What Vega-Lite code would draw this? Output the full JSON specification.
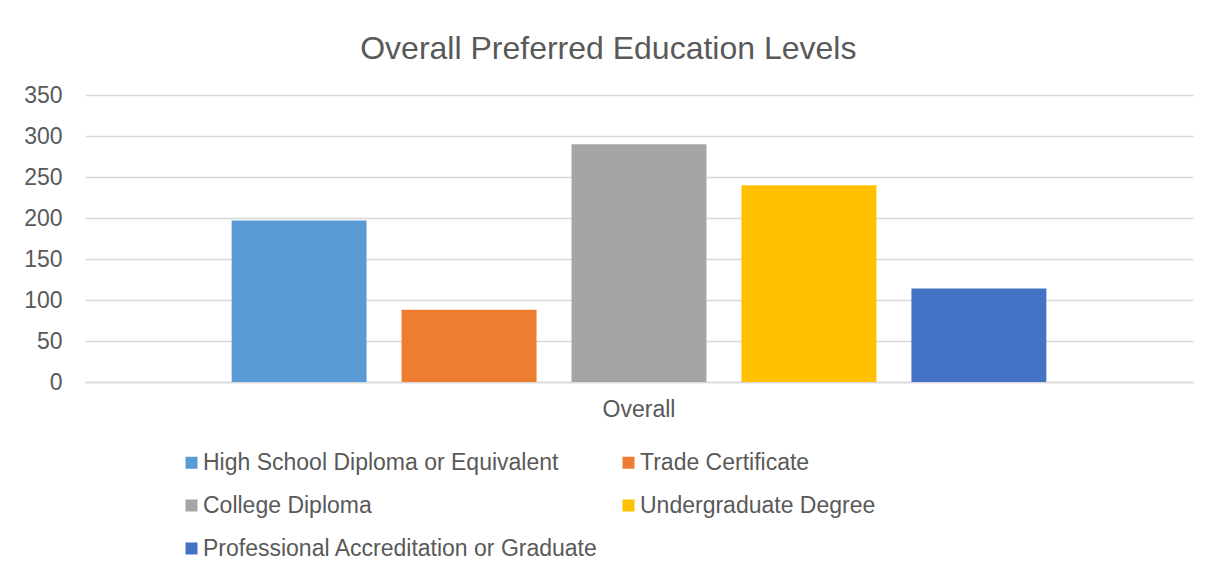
{
  "$schema": "https://vega.github.io/schema/vega-lite/v6.json",
  "width": 1108,
  "height": 287,
  "padding": {"left": 23, "top": 33, "right": 20, "bottom": 10},
  "background": "white",
  "title": {
    "text": "Overall Preferred Education Levels",
    "fontSize": 32,
    "font": "Liberation Sans",
    "fontWeight": "normal",
    "color": "#595959",
    "anchor": "middle",
    "frame": "bounds",
    "offset": 18
  },
  "data": {
    "values": [
      {"group": "Overall", "level": "High School Diploma or Equivalent", "count": 197},
      {"group": "Overall", "level": "Trade Certificate", "count": 88},
      {"group": "Overall", "level": "College Diploma", "count": 290},
      {"group": "Overall", "level": "Undergraduate Degree", "count": 240},
      {"group": "Overall", "level": "Professional Accreditation or Graduate", "count": 114}
    ]
  },
  "mark": {"type": "bar"},
  "encoding": {
    "x": {
      "field": "group",
      "type": "nominal",
      "scale": {"paddingInner": 0, "paddingOuter": 0.18},
      "axis": {
        "title": null,
        "labelAngle": 0,
        "ticks": false,
        "domain": true,
        "domainColor": "#D9D9D9",
        "domainWidth": 1.5,
        "labelPadding": 16,
        "labelFontSize": 23,
        "labelColor": "#595959",
        "labelFont": "Liberation Sans"
      }
    },
    "xOffset": {
      "field": "level",
      "type": "nominal",
      "sort": null,
      "scale": {"paddingInner": 0.206, "paddingOuter": 0}
    },
    "y": {
      "field": "count",
      "type": "quantitative",
      "scale": {"domain": [0, 350], "nice": false},
      "axis": {
        "title": null,
        "values": [0, 50, 100, 150, 200, 250, 300, 350],
        "ticks": false,
        "domain": false,
        "grid": true,
        "gridColor": "#D9D9D9",
        "gridWidth": 1.5,
        "labelPadding": 23,
        "labelFontSize": 23,
        "labelColor": "#595959",
        "labelFont": "Liberation Sans"
      }
    },
    "color": {
      "field": "level",
      "type": "nominal",
      "sort": null,
      "scale": {
        "domain": ["High School Diploma or Equivalent", "Trade Certificate", "College Diploma", "Undergraduate Degree", "Professional Accreditation or Graduate"],
        "range": ["#5B9BD5", "#ED7D31", "#A5A5A5", "#FFC000", "#4472C4"]
      },
      "legend": {
        "title": null,
        "orient": "none",
        "direction": "horizontal",
        "legendX": 95,
        "legendY": 356,
        "columns": 2,
        "columnPadding": 18,
        "rowPadding": 19,
        "padding": 0,
        "symbolType": "square",
        "symbolSize": 144,
        "symbolStrokeWidth": 0,
        "symbolOpacity": 1,
        "labelOffset": 0,
        "labelFontSize": 23,
        "labelColor": "#595959",
        "labelFont": "Liberation Sans",
        "labelLimit": 600
      }
    }
  },
  "config": {
    "view": {"stroke": null},
    "font": "Liberation Sans"
  }
}
